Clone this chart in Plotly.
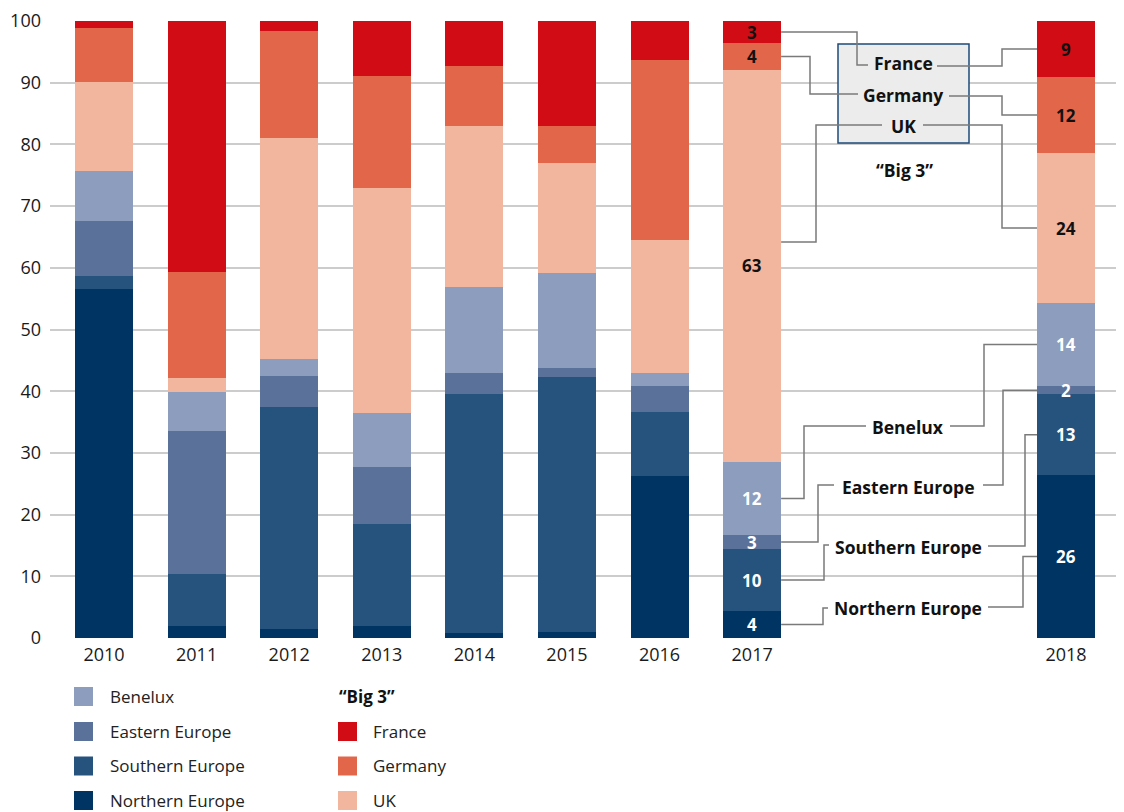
import plotly.graph_objects as go

# ---------------- data ----------------
years = ["2010", "2011", "2012", "2013", "2014", "2015", "2016", "2017", "2018"]
northern = [56.6, 1.9, 1.5, 1.9, 0.8, 1.0, 26.2, 4.4, 26.4]
southern = [2.1, 8.5, 35.9, 16.6, 38.7, 41.3, 10.4, 10.0, 13.1]
eastern = [8.9, 23.1, 5.1, 9.2, 3.4, 1.5, 4.2, 2.3, 1.3]
benelux = [8.1, 6.4, 2.7, 8.8, 14.0, 15.3, 2.1, 11.8, 13.5]
uk = [14.4, 2.3, 35.9, 36.5, 26.1, 17.9, 21.6, 63.6, 24.3]
germany = [8.8, 17.1, 17.3, 18.1, 9.7, 6.0, 29.1, 4.3, 12.3]
france = [1.1, 40.7, 1.6, 8.9, 7.3, 17.0, 6.4, 3.6, 9.1]

# rounded value labels shown for 2017 and 2018 (order: N, S, E, Benelux, UK, Germany, France)
labels_2017 = [4, 10, 3, 12, 63, 4, 3]
labels_2018 = [26, 13, 2, 14, 24, 12, 9]

series_names = ["Northern Europe", "Southern Europe", "Eastern Europe", "Benelux", "UK", "Germany", "France"]
series_values = [northern, southern, eastern, benelux, uk, germany, france]

# ---------------- style / layout ----------------
colors = {
    "Northern Europe": "#003462",
    "Southern Europe": "#26527e",
    "Eastern Europe": "#5a729a",
    "Benelux": "#8c9dbd",
    "UK": "#f2b59d",
    "Germany": "#e2664a",
    "France": "#d20c14",
}
text_color = {
    "Northern Europe": "white", "Southern Europe": "white", "Eastern Europe": "white",
    "Benelux": "white", "UK": "#111111", "Germany": "#111111", "France": "#111111",
}
x_pos = [0, 1, 2, 3, 4, 5, 6, 7, 10.39]
bar_w = 0.626
FONT = "Open Sans"

# The page body has an 8px margin, so the figure starts at page pixel (8, 8).
OFF = 8
FIG_W, FIG_H = 1124, 812 - OFF
RIGHT_PX = OFF + FIG_W  # page x of plot-area right edge (slightly beyond the window)

# page-pixel -> axis helpers (plot area on page: x 50..RIGHT_PX, y 21..638 px)
def X(px):
    return (px - 104) / 92.59

def Y(py):
    return (638 - py) / 6.17

def PX(px):  # paper x
    return (px - 50) / (RIGHT_PX - 50)

def PY(py):  # paper y
    return (638 - py) / 617

fig = go.Figure()
for name, vals in zip(series_names, series_values):
    fig.add_trace(go.Bar(
        x=x_pos, y=vals, name=name, width=bar_w,
        marker=dict(color=colors[name], line=dict(width=0)),
        showlegend=False, hoverinfo="skip",
    ))

# cumulative midpoints
def mids(idx):
    out = []
    acc = 0
    for vals in series_values:
        out.append(acc + vals[idx] / 2)
        acc += vals[idx]
    return out

m17 = mids(7)
m18 = mids(8)

annotations = []
for i, name in enumerate(series_names):
    annotations.append(dict(x=x_pos[7], y=m17[i], xref="x", yref="y", text=f"<b>{labels_2017[i]}</b>",
                            showarrow=False, font=dict(family=FONT, size=17, color=text_color[name])))
    annotations.append(dict(x=x_pos[8], y=m18[i], xref="x", yref="y", text=f"<b>{labels_2018[i]}</b>",
                            showarrow=False, font=dict(family=FONT, size=17, color=text_color[name])))

shapes = []
# "Big 3" box
shapes.append(dict(type="rect", xref="x", yref="y", x0=X(838), x1=X(969), y0=Y(44), y1=Y(143),
                   fillcolor="#ececec", line=dict(color="#1d4a7a", width=1.5), layer="above"))

xr17 = x_pos[7] + bar_w / 2
xl18 = x_pos[8] - bar_w / 2
LINE = dict(color="#7a7a7a", width=1.5)

def path(points):
    s = "M " + " L ".join(f"{a},{b}" for a, b in points)
    shapes.append(dict(type="path", xref="x", yref="y", path=s, line=LINE, layer="above"))

iF, iG, iU, iB, iE, iS, iN = 6, 5, 4, 3, 2, 1, 0
path([(xr17, m17[iF]), (X(857), m17[iF]), (X(857), Y(65)), (X(868), Y(65))])
path([(X(937), Y(66)), (X(1002), Y(66)), (X(1002), m18[iF]), (xl18, m18[iF])])
path([(xr17, m17[iG]), (X(810), m17[iG]), (X(810), Y(94)), (X(858), Y(94))])
path([(X(949), Y(96)), (X(1002), Y(96)), (X(1002), m18[iG]), (xl18, m18[iG])])
path([(xr17, Y(242)), (X(816), Y(242)), (X(816), Y(125)), (X(882), Y(125))])
path([(X(923), Y(125)), (X(1002), Y(125)), (X(1002), m18[iU]), (xl18, m18[iU])])
path([(xr17, m17[iB]), (X(804), m17[iB]), (X(804), Y(426)), (X(866), Y(426))])
path([(X(950), Y(426)), (X(984), Y(426)), (X(984), m18[iB]), (xl18, m18[iB])])
path([(xr17, m17[iE]), (X(818), m17[iE]), (X(818), Y(485)), (X(834), Y(485))])
path([(X(983), Y(485)), (X(1003), Y(485)), (X(1003), m18[iE]), (xl18, m18[iE])])
path([(xr17, m17[iS]), (X(824), m17[iS]), (X(824), Y(545)), (X(829), Y(545))])
path([(X(988), Y(546)), (X(1025), Y(546)), (X(1025), m18[iS]), (xl18, m18[iS])])
path([(xr17, m17[iN]), (X(823), m17[iN]), (X(823), Y(608)), (X(828), Y(608))])
path([(X(988), Y(607)), (X(1023), Y(607)), (X(1023), m18[iN]), (xl18, m18[iN])])

# callout labels
callouts = [("France", 903, 63), ("Germany", 903, 95), ("UK", 903, 126),
            ("“Big 3”", 904, 170),
            ("Benelux", 908, 427), ("Eastern Europe", 908, 487),
            ("Southern Europe", 908, 547), ("Northern Europe", 908, 608)]
for t, px, py in callouts:
    annotations.append(dict(x=X(px), y=Y(py), xref="x", yref="y", text=f"<b>{t}</b>", showarrow=False,
                            font=dict(family=FONT, size=17.5, color="#111111")))

# custom legend
left_items = ["Benelux", "Eastern Europe", "Southern Europe", "Northern Europe"]
right_items = ["France", "Germany", "UK"]
rows = [696.5, 731.5, 766, 800.5]
for name, cy in zip(left_items, rows):
    shapes.append(dict(type="rect", xref="paper", yref="paper", x0=PX(74), x1=PX(93),
                       y0=PY(cy + 9.5), y1=PY(cy - 9.5), fillcolor=colors[name], line=dict(width=0)))
    annotations.append(dict(x=PX(108), y=PY(cy), xref="paper", yref="paper", text=name, showarrow=False,
                            xanchor="left", yanchor="middle",
                            font=dict(family=FONT, size=17, color="#222222")))
annotations.append(dict(x=PX(337), y=PY(rows[0]), xref="paper", yref="paper", text="<b>“Big 3”</b>",
                        showarrow=False, xanchor="left", yanchor="middle",
                        font=dict(family=FONT, size=17, color="#111111")))
for name, cy in zip(right_items, rows[1:]):
    shapes.append(dict(type="rect", xref="paper", yref="paper", x0=PX(338), x1=PX(357),
                       y0=PY(cy + 9.5), y1=PY(cy - 9.5), fillcolor=colors[name], line=dict(width=0)))
    annotations.append(dict(x=PX(371), y=PY(cy), xref="paper", yref="paper", text=name, showarrow=False,
                            xanchor="left", yanchor="middle",
                            font=dict(family=FONT, size=17, color="#222222")))

fig.update_layout(
    width=FIG_W, height=FIG_H,
    margin=dict(l=50 - OFF, r=0, t=21 - OFF, b=FIG_H - (638 - OFF), pad=0),
    barmode="stack",
    plot_bgcolor="white", paper_bgcolor="white",
    font=dict(family=FONT, size=18, color="#1a1a1a"),
    shapes=shapes, annotations=annotations,
    hovermode=False,
    xaxis=dict(range=[X(50), X(RIGHT_PX)], tickmode="array", tickvals=x_pos, ticktext=years,
               showgrid=False, zeroline=False, showline=False, ticks="", ticklabelstandoff=4,
               tickfont=dict(family=FONT, size=18, color="#1a1a1a"), fixedrange=True),
    yaxis=dict(range=[0, 100], tickmode="array", tickvals=list(range(0, 101, 10)),
               showgrid=True, gridcolor="#cccccc", gridwidth=2, zeroline=False, showline=False,
               ticks="", ticklabelstandoff=8,
               tickfont=dict(family=FONT, size=18, color="#1a1a1a"), fixedrange=True),
)

fig.write_html("out.html")
